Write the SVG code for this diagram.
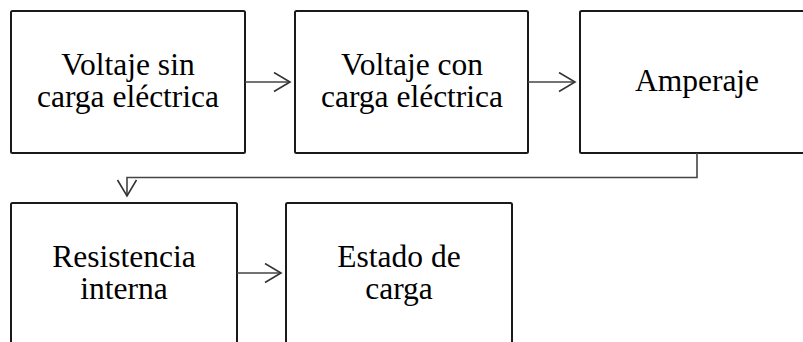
<svg xmlns="http://www.w3.org/2000/svg" width="803" height="342" viewBox="0 0 803 342">
<style>
.box{fill:#fff;stroke:#1a1a1a;stroke-width:2}
.t{font-size:31.5px;fill:#000;text-anchor:middle}
.c{fill:none;stroke:#444;stroke-width:1.6}
</style>
<defs>
<marker id="ah" markerWidth="20" markerHeight="22" refX="17" refY="10" orient="auto" markerUnits="userSpaceOnUse">
<path d="M1,0.5 L17,10 L1,19.5" fill="none" stroke="#333" stroke-width="1.6"/>
</marker>
</defs>
<rect width="803" height="342" fill="#fff"/>
<g font-family="'Liberation Serif', 'Times New Roman', serif">
<g id="n1"><rect class="box" x="11" y="11" width="234" height="142" rx="1.5"/>
<text class="t" x="128" y="75">Voltaje sin</text><text class="t" x="128" y="107">carga eléctrica</text></g>
<g id="n2"><rect class="box" x="295" y="11" width="233" height="142" rx="1.5"/>
<text class="t" x="412" y="75">Voltaje con</text><text class="t" x="412" y="107">carga eléctrica</text></g>
<g id="n3"><rect class="box" x="580" y="11" width="234" height="142" rx="1.5"/>
<text class="t" x="697" y="91">Amperaje</text></g>
<g id="n4"><rect class="box" x="11" y="203" width="226" height="142" rx="1.5"/>
<text class="t" x="124" y="266.5">Resistencia</text><text class="t" x="124" y="298.5">interna</text></g>
<g id="n5"><rect class="box" x="286" y="203" width="226" height="142" rx="1.5"/>
<text class="t" x="399" y="266.5">Estado de</text><text class="t" x="399" y="298.5">carga</text></g>
</g>
<g id="connectors">
<path class="c" d="M245,82 H290" marker-end="url(#ah)"/>
<path class="c" d="M528,82 H575" marker-end="url(#ah)"/>
<path class="c" d="M697,153 V177.5 H127 V196" marker-end="url(#ah)"/>
<path class="c" d="M237,273 H281" marker-end="url(#ah)"/>
</g>
</svg>
